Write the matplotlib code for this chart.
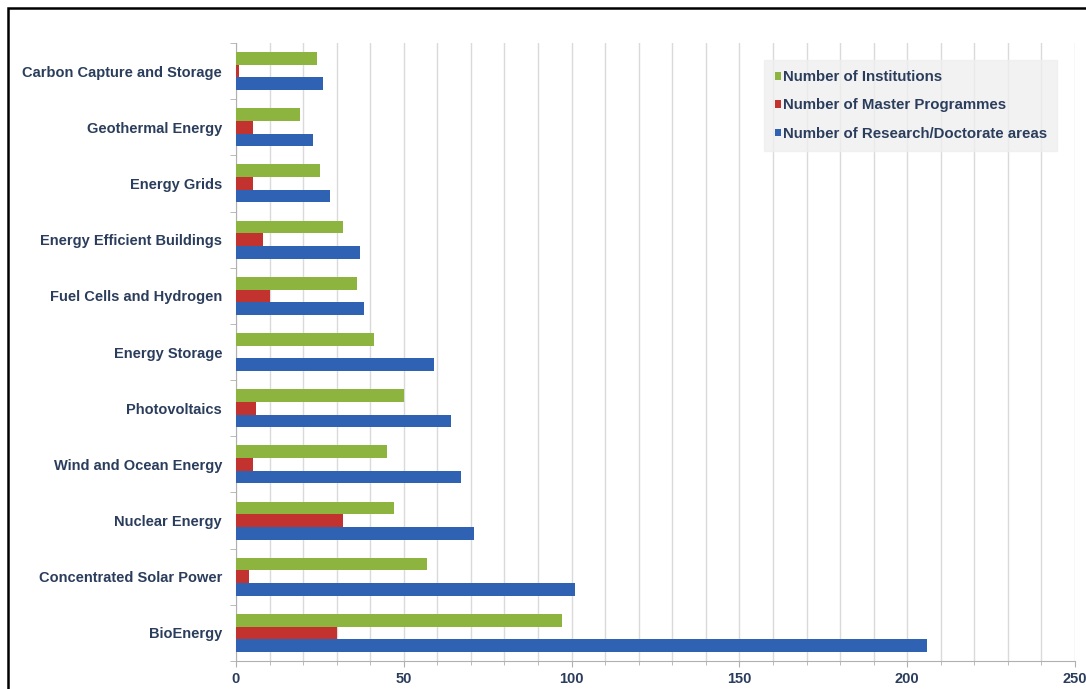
import matplotlib
matplotlib.use("Agg")
import matplotlib.pyplot as plt
from matplotlib.patches import Rectangle
from matplotlib.ticker import MultipleLocator, FixedLocator
import numpy as np

categories = [
    "BioEnergy",
    "Concentrated Solar Power",
    "Nuclear Energy",
    "Wind and Ocean Energy",
    "Photovoltaics",
    "Energy Storage",
    "Fuel Cells and Hydrogen",
    "Energy Efficient Buildings",
    "Energy Grids",
    "Geothermal Energy",
    "Carbon Capture and Storage",
]
institutions = [97, 57, 47, 45, 50, 41, 36, 32, 25, 19, 24]
master_programmes = [30, 4, 32, 5, 6, 0, 10, 8, 5, 5, 1]
research_areas = [206, 101, 71, 67, 64, 59, 38, 37, 28, 23, 26]

series_names = [
    "Number of Institutions",
    "Number of Master Programmes",
    "Number of Research/Doctorate areas",
]
series_colors = ["#8cb43f", "#c23330", "#2f62b3"]
text_color = "#2b3d5c"

plt.rcParams["font.family"] = ["Liberation Sans", "DejaVu Sans"]

fig = plt.figure(figsize=(10.86, 6.89), dpi=100)
ax = fig.add_axes([0.2173, 0.0406, 0.7726, 0.897])

y = np.arange(len(categories))
h = 0.225
for vals, off, col, name in zip(
    [institutions, master_programmes, research_areas],
    [h, 0.0, -h],
    series_colors,
    series_names,
):
    ax.barh(y + off, vals, height=h, color=col, label=name, zorder=3)

ax.set_xlim(0, 250)
ax.set_ylim(-0.5, len(categories) - 0.5)
ax.xaxis.set_major_locator(MultipleLocator(50))
ax.xaxis.set_minor_locator(MultipleLocator(10))
ax.grid(axis="x", which="both", color="#dadada", linewidth=1.0, zorder=0)

ax.set_yticks(y)
ax.set_yticklabels(categories)
ax.yaxis.set_minor_locator(FixedLocator(np.arange(-0.5, len(categories), 1.0)))
ax.tick_params(axis="y", which="major", length=0, pad=10)
ax.tick_params(axis="y", which="minor", length=4, color="#b0b0b0")
ax.tick_params(axis="x", which="major", length=4, color="#b0b0b0", pad=4)
ax.tick_params(axis="x", which="minor", length=3, color="#b0b0b0")

for lab in ax.get_yticklabels() + ax.get_xticklabels():
    lab.set_fontweight("bold")
    lab.set_color(text_color)
    lab.set_fontsize(10.5)

for side in ["top", "right"]:
    ax.spines[side].set_visible(False)
for side in ["left", "bottom"]:
    ax.spines[side].set_color("#b0b0b0")

leg = ax.legend(
    loc="upper right",
    bbox_to_anchor=(0.979, 0.973),
    frameon=True,
    fancybox=False,
    handlelength=0.4,
    handleheight=0.4,
    handletextpad=0.15,
    labelspacing=0.95,
    borderpad=0.7,
    borderaxespad=0.0,
    prop={"weight": "bold", "size": 10.8},
)
leg.get_frame().set_facecolor("#efefef")
leg.get_frame().set_edgecolor("#efefef")
for t in leg.get_texts():
    t.set_color(text_color)

# outer black frame
fig.add_artist(Rectangle((8 / 1086, -0.1), 1.2, 1 - 8 / 689 + 0.1,
                         transform=fig.transFigure, fill=False,
                         edgecolor="black", linewidth=1.8))

fig.savefig("out.png", dpi=100)
